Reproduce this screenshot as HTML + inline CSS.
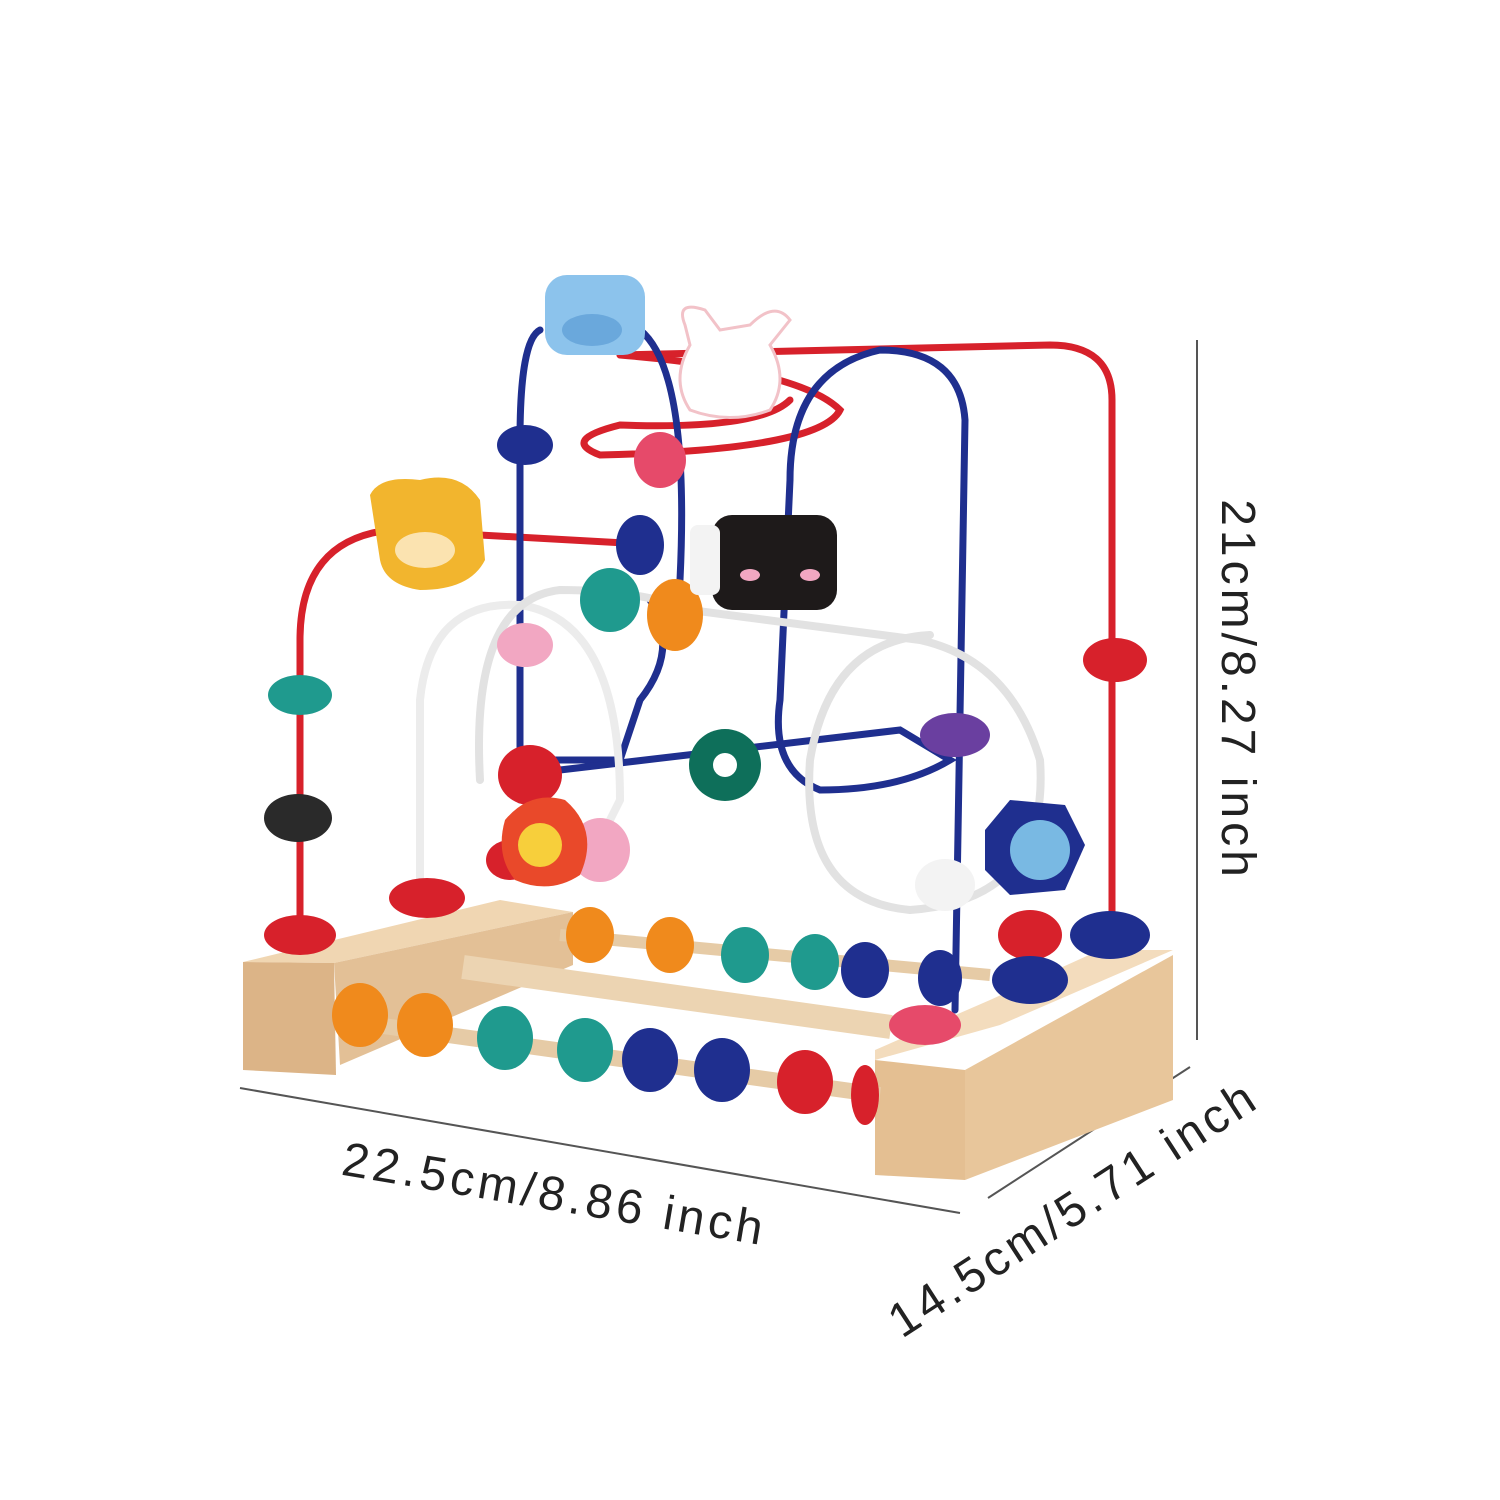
<!DOCTYPE html>
<html><head><meta charset="utf-8"><style>
html,body{margin:0;padding:0;background:#fff;}
svg{display:block}
text{font-family:"Liberation Sans","Noto Sans CJK SC",sans-serif;fill:#222;}
</style></head><body>
<svg width="1500" height="1500" viewBox="0 0 1500 1500" xmlns="http://www.w3.org/2000/svg">
<rect width="1500" height="1500" fill="#fff"/>
<line x1="1197" y1="340" x2="1197" y2="1040" stroke="#555" stroke-width="2"/>
<line x1="240" y1="1088" x2="960" y2="1213" stroke="#555" stroke-width="2"/>
<line x1="988" y1="1198" x2="1190" y2="1067" stroke="#555" stroke-width="2"/>
<text x="0" y="0" font-size="48" letter-spacing="4" text-anchor="middle" transform="translate(1222,690) rotate(90)">21cm/8.27 inch</text>
<text x="0" y="0" font-size="48" letter-spacing="4" text-anchor="middle" transform="translate(552,1210) rotate(9.5)">22.5cm/8.86 inch</text>
<text x="0" y="0" font-size="48" letter-spacing="4" text-anchor="middle" transform="translate(1082,1222) rotate(-33)">14.5cm/5.71 inch</text>

<!-- left block -->
<polygon points="243,962 500,900 573,912 334,963" fill="#f0d6b2"/>
<polygon points="243,962 334,963 336,1075 243,1070" fill="#dcb487"/>
<polygon points="334,963 573,912 573,965 340,1065" fill="#e3c096"/>
<!-- right block -->
<polygon points="875,1060 965,1070 965,1180 875,1175" fill="#e4bf92"/>
<polygon points="965,1070 1173,955 1173,1100 965,1180" fill="#e8c69b"/>
<polygon points="875,1060 1000,1025 1173,950 1100,950 990,1000 875,1050" fill="#f3dcbd"/>
<!-- rods -->
<line x1="463" y1="967" x2="891" y2="1027" stroke="#ecd4b2" stroke-width="24"/>
<line x1="340" y1="1020" x2="880" y2="1095" stroke="#e6cba6" stroke-width="16"/>
<line x1="560" y1="935" x2="990" y2="975" stroke="#e6cba6" stroke-width="12"/>

<g fill="none" stroke-width="7" stroke-linecap="round">
<path d="M300,940 L300,640 Q300,540 390,530 L660,545" stroke="#d7212b"/>
<path d="M1112,925 L1112,400 Q1112,345 1050,345 L620,355" stroke="#d7212b"/>
<path d="M620,355 Q800,370 840,410 Q820,450 600,455 Q560,440 620,425 Q760,430 790,400" stroke="#d7212b"/>
<path d="M520,440 L520,760 L620,760 L640,700 Q680,650 650,600" stroke="#1f2f8f"/>
<path d="M540,330 Q520,340 520,440" stroke="#1f2f8f"/>
<path d="M640,330 Q690,370 680,580" stroke="#1f2f8f"/>
<path d="M955,1010 L965,420 Q960,350 880,350 Q790,370 790,480 L780,700 Q770,770 820,790 Q900,790 950,760 L900,730 L560,770 Q500,780 520,800" stroke="#1f2f8f"/>
<path d="M420,880 L420,700 Q430,600 520,605 Q620,620 620,800 L600,840" stroke="#ececec" stroke-width="8"/>
<path d="M480,780 Q470,600 560,590 Q640,590 690,610 L920,640 Q1010,660 1040,760 Q1050,900 910,910 Q800,900 810,760 Q830,640 930,635" stroke="#e2e2e2" stroke-width="8"/>
</g>

<g>
<ellipse cx="300" cy="695" rx="32" ry="20" fill="#1f9a8e"/>
<ellipse cx="298" cy="818" rx="34" ry="24" fill="#2a2a2a"/>
<ellipse cx="300" cy="935" rx="36" ry="20" fill="#d7212b"/>
<ellipse cx="427" cy="898" rx="38" ry="20" fill="#d7212b"/>
<ellipse cx="525" cy="445" rx="28" ry="20" fill="#1f2f8f"/>
<ellipse cx="660" cy="460" rx="26" ry="28" fill="#e64a6a"/>
<ellipse cx="640" cy="545" rx="24" ry="30" fill="#1f2f8f"/>
<ellipse cx="610" cy="600" rx="30" ry="32" fill="#1f9a8e"/>
<ellipse cx="675" cy="615" rx="28" ry="36" fill="#f08a1c"/>
<ellipse cx="525" cy="645" rx="28" ry="22" fill="#f2a7c2"/>
<ellipse cx="530" cy="775" rx="32" ry="30" fill="#d7212b"/>
<ellipse cx="725" cy="765" rx="36" ry="36" fill="#0e6f5a"/>
<circle cx="725" cy="765" r="12" fill="#fff"/>
<ellipse cx="955" cy="735" rx="35" ry="22" fill="#6a3fa0"/>
<ellipse cx="1115" cy="660" rx="32" ry="22" fill="#d7212b"/>
<ellipse cx="945" cy="885" rx="30" ry="26" fill="#f3f3f3"/>
<ellipse cx="600" cy="850" rx="30" ry="32" fill="#f2a7c2"/>
<ellipse cx="510" cy="860" rx="24" ry="20" fill="#d7212b"/>
<ellipse cx="1030" cy="935" rx="32" ry="25" fill="#d7212b"/>
<ellipse cx="1030" cy="980" rx="38" ry="24" fill="#1f2f8f"/>
<ellipse cx="1110" cy="935" rx="40" ry="24" fill="#1f2f8f"/>
<ellipse cx="925" cy="1025" rx="36" ry="20" fill="#e64a6a"/>
<ellipse cx="360" cy="1015" rx="28" ry="32" fill="#f08a1c"/>
<ellipse cx="425" cy="1025" rx="28" ry="32" fill="#f08a1c"/>
<ellipse cx="505" cy="1038" rx="28" ry="32" fill="#1f9a8e"/>
<ellipse cx="585" cy="1050" rx="28" ry="32" fill="#1f9a8e"/>
<ellipse cx="650" cy="1060" rx="28" ry="32" fill="#1f2f8f"/>
<ellipse cx="722" cy="1070" rx="28" ry="32" fill="#1f2f8f"/>
<ellipse cx="805" cy="1082" rx="28" ry="32" fill="#d7212b"/>
<ellipse cx="865" cy="1095" rx="14" ry="30" fill="#d7212b"/>
<ellipse cx="590" cy="935" rx="24" ry="28" fill="#f08a1c"/>
<ellipse cx="670" cy="945" rx="24" ry="28" fill="#f08a1c"/>
<ellipse cx="745" cy="955" rx="24" ry="28" fill="#1f9a8e"/>
<ellipse cx="815" cy="962" rx="24" ry="28" fill="#1f9a8e"/>
<ellipse cx="865" cy="970" rx="24" ry="28" fill="#1f2f8f"/>
<ellipse cx="940" cy="978" rx="22" ry="28" fill="#1f2f8f"/>
</g>

<g>
<rect x="545" y="275" width="100" height="80" rx="22" fill="#8cc3ec"/>
<ellipse cx="592" cy="330" rx="30" ry="16" fill="#6aa8dc"/>
<path d="M685,325 Q675,300 705,310 L720,330 L750,325 Q775,300 790,320 L770,345 Q790,380 770,410 Q730,425 690,410 Q670,380 690,345Z" fill="#fff" stroke="#f2c2c8" stroke-width="3"/>
<path d="M370,495 Q380,475 420,480 Q460,470 480,500 L485,560 Q470,590 420,590 Q385,585 380,560Z" fill="#f2b52e"/>
<ellipse cx="425" cy="550" rx="30" ry="18" fill="#fbe3b0"/>
<rect x="712" y="515" width="125" height="95" rx="20" fill="#1e1a1a"/>
<rect x="690" y="525" width="30" height="70" rx="8" fill="#f3f3f3"/>
<ellipse cx="750" cy="575" rx="10" ry="6" fill="#f2a7c2"/>
<ellipse cx="810" cy="575" rx="10" ry="6" fill="#f2a7c2"/>
<polygon points="985,830 1010,800 1065,805 1085,845 1065,890 1010,895 985,870" fill="#1f2f8f"/>
<circle cx="1040" cy="850" r="30" fill="#79b9e3"/>
<path d="M505,820 Q530,790 565,800 Q600,830 580,875 Q550,895 515,880 Q495,855 505,820Z" fill="#e9492a"/>
<circle cx="540" cy="845" r="22" fill="#f7cf3b"/>
</g>
</svg>
</body></html>
